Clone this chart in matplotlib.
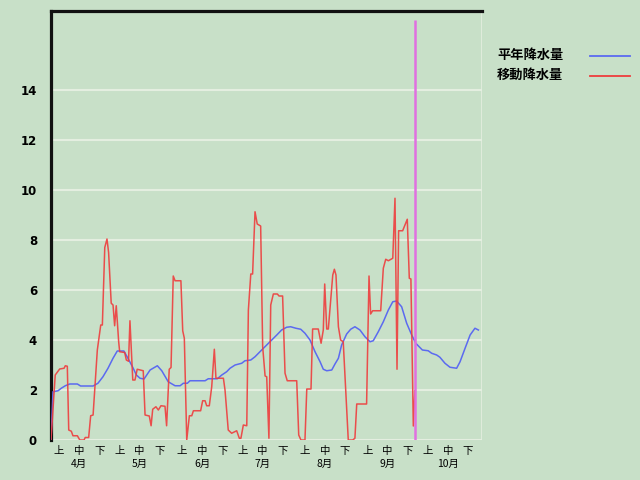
import matplotlib
matplotlib.use("Agg")
import matplotlib.pyplot as plt
import matplotlib.transforms as mtransforms
from matplotlib.lines import Line2D

plt.rcParams['font.family'] = ['Noto Sans CJK JP', 'DejaVu Sans']

# days counted from April 1 (0 = Apr 1)
months = ['4月', '5月', '6月', '7月', '8月', '9月', '10月']
month_len = [30, 31, 30, 31, 31, 30, 31]
decades = ['上', '中', '下']
decade_offset = [4, 14, 24]
today = 180.7

# 平年降水量 (normal)
normal_day = [0, 1, 3.5, 5.1, 7.1, 9.3, 13.1, 14.7, 20.9, 23.3, 25.8, 28.3, 30.8, 32.9,
              36.2, 38.2, 40.7, 42.4, 44.2, 46.2, 49.2, 52.8, 55, 58.2, 61.6, 64.1,
              65.7, 67.7, 69, 76.5, 78.1, 82.6, 84.8, 87.2, 88.9, 91.4, 94.7, 96.3,
              99.2, 101.3, 104.6, 107.1, 109.6, 112.1, 114.5, 117, 119, 121.6, 124,
              126.1, 128.6, 131.1, 133.6, 135.2, 136.9, 139.4, 141, 142.7, 144.3,
              146.8, 148.8, 150.9, 153.4, 155.9, 158.4, 160, 162.5, 165, 167.5, 169.7,
              171.6, 174.1, 176.6, 179.1, 181.1, 184.4, 187.3, 189, 191.5, 193.1,
              195.6, 198.1, 201.4, 203.1, 205.6, 208.1, 210.5, 212.2]
normal_val = [0, 1.93, 1.97, 2.07, 2.17, 2.24, 2.24, 2.16, 2.16, 2.27, 2.53, 2.87, 3.27, 3.56,
              3.56, 3.27, 2.89, 2.6, 2.47, 2.44, 2.8, 2.97, 2.77, 2.33, 2.17, 2.17,
              2.27, 2.27, 2.37, 2.37, 2.45, 2.45, 2.6, 2.73, 2.87, 3.0, 3.07, 3.17,
              3.2, 3.33, 3.6, 3.8, 4.0, 4.2, 4.4, 4.51, 4.53, 4.47, 4.43,
              4.27, 4.0, 3.53, 3.13, 2.83, 2.77, 2.8, 3.04, 3.27, 3.8,
              4.24, 4.43, 4.53, 4.4, 4.13, 3.93, 3.97, 4.33, 4.73, 5.2, 5.53,
              5.56, 5.33, 4.67, 4.2, 3.87, 3.6, 3.57, 3.47, 3.4, 3.31,
              3.07, 2.91, 2.87, 3.13, 3.67, 4.2, 4.47, 4.4]

# 移動降水量 (moving)
moving_day = [0, 2.1, 4.3, 6.5, 7.1, 8.1, 8.8, 10.1, 10.9, 13.1, 14.3, 16.4, 17, 18.7,
              19.7, 20.9, 23, 24.7, 25.5, 26.7, 27.8, 28.6, 29.9, 30.8, 31.6, 32.4,
              33.6, 34.1, 36.6, 37.4, 38.5, 39.2, 40.6, 41.7, 42.8, 45.8, 46.7, 48.8,
              49.7, 50.5, 52.1, 53.3, 54.6, 56.6, 57.4, 58.7, 59.6, 60.7, 61.6, 64.5,
              65.4, 66.2, 67.4, 68.7, 69.9, 70.7, 74.3, 75.3, 76.5, 77.3, 78.6, 79.8,
              81.1, 81.9, 85.6, 86.4, 88, 89.7, 92.2, 93.5, 94.3, 95.5, 97.2, 98,
              99.2, 100.1, 101.3, 102.4, 104.1, 105.1, 106.3, 107.1, 108.2, 109.1,
              110.4, 112.4, 113.2, 115, 116.2, 117.3, 122, 123, 124.1, 126.1, 127,
              129.1, 129.9, 132.7, 134.1, 135.2, 135.9, 136.9, 137.7, 139.9, 140.7,
              141.5, 142.7, 143.8, 145.1, 147.6, 149.8, 150.9, 151.8, 156.7, 157.9,
              158.7, 159.7, 163.7, 165, 166.2, 167.5, 169.7, 170.8, 171.8, 172.6,
              174.6, 176.9, 177.9, 178.7, 179.9, 180.7]
moving_val = [0, 2.6, 2.84, 2.87, 2.97, 2.95, 0.4, 0.35, 0.17, 0.17, 0, 0, 0.1, 0.1,
              0.97, 1.0, 3.6, 4.6, 4.6, 7.7, 8.04, 7.5, 5.47, 5.4, 4.57, 5.37,
              3.93, 3.53, 3.5, 3.2, 3.15, 4.77, 2.4, 2.4, 2.83, 2.77, 1.0, 0.96,
              0.57, 1.23, 1.33, 1.2, 1.37, 1.35, 0.57, 2.83, 2.9, 6.56, 6.37, 6.37,
              4.37, 4.07, 0, 0.97, 0.97, 1.17, 1.17, 1.57, 1.57, 1.37, 1.37, 2.13,
              3.63, 2.47, 2.47, 2.0, 0.4, 0.27, 0.37, 0.07, 0.07, 0.6, 0.57, 5.2,
              6.64, 6.64, 9.13, 8.64, 8.56, 3.73, 2.56, 2.53, 0.07, 5.4,
              5.84, 5.84, 5.76, 5.76, 2.67, 2.37, 2.37, 0.2, 0, 0, 2.04,
              2.04, 4.44, 4.44, 3.87, 4.4, 6.24, 4.44, 4.44, 6.6, 6.83,
              6.6, 4.53, 4.0, 3.93, 0, 0, 0.07, 1.44, 1.44, 6.56,
              5.04, 5.17, 5.17, 6.87, 7.23, 7.17, 7.27, 9.67, 2.83, 8.37,
              8.37, 8.83, 6.47, 6.44, 0.56, 1.97]

bg = '#c8e0c8'
blue = '#5b6af0'
red = '#ee3d3d'

fig = plt.figure(figsize=(6.4, 4.8), dpi=100, facecolor=bg)
ax = fig.add_axes([51 / 640, 1 - 440 / 480, 431 / 640, 429 / 480])
ax.set_facecolor(bg)

total_days = sum(month_len)
ax.set_xlim(0, total_days)
ax.set_ylim(0, 429 / 25)

# grid lines
for v in range(0, 16, 2):
    ax.axhline(v, color='#e4eee0', lw=1.5, zorder=1)
ax.axvline(total_days, color='#e4eee0', lw=1.2, zorder=1)

ax.plot(normal_day, normal_val, color=blue, lw=1.1, zorder=3)
ax.plot(moving_day, moving_val, color=red, lw=1.1, alpha=0.9, zorder=4)
ax.vlines(today, 0, 420 / 25, color='#e070e0', lw=1.8, zorder=5)

for s in ['right', 'bottom']:
    ax.spines[s].set_visible(False)
for s in ['left', 'top']:
    ax.spines[s].set_color('#111')
    ax.spines[s].set_linewidth(2.3)

ax.set_yticks(range(0, 16, 2))
ax.set_yticklabels([str(v) for v in range(0, 16, 2)], fontsize=8.5, fontweight='bold',
                   family=['DejaVu Sans'])
ax.tick_params(axis='y', length=0, pad=10)

# x labels: 上/中/下 and month names
starts = [sum(month_len[:i]) for i in range(len(month_len))]
pos, labs = [], []
for st in starts:
    for off, d in zip(decade_offset, decades):
        pos.append(st + off)
        labs.append(d)
ax.set_xticks(pos)
ax.set_xticklabels(labs, fontsize=7.5)
ax.tick_params(axis='x', length=0, pad=4)

trans = mtransforms.blended_transform_factory(ax.transData, ax.transAxes)
for st, m in zip(starts, months):
    ax.text(st + decade_offset[1], -0.055, m, transform=trans, ha='center', va='center',
            fontsize=7.5)

# legend
fig.text(497 / 640, 1 - 55 / 480, '平年降水量', fontsize=9.5, fontweight='bold',
         va='center', ha='left')
fig.text(497 / 640, 1 - 75 / 480, '移動降水量', fontsize=9.5, fontweight='bold',
         va='center', ha='left')
fig.add_artist(Line2D([590 / 640, 630 / 640], [1 - 55.5 / 480] * 2, color=blue, lw=1.3))
fig.add_artist(Line2D([590 / 640, 630 / 640], [1 - 75.5 / 480] * 2, color=red, lw=1.3))

fig.savefig('out.png', dpi=100, facecolor=bg)
